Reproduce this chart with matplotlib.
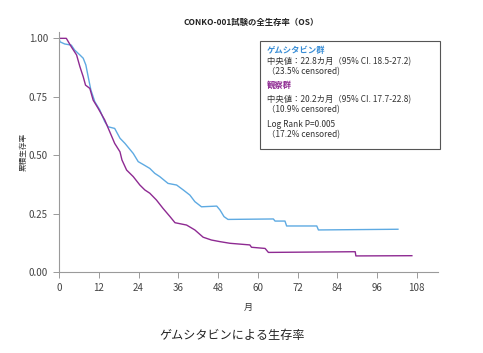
import matplotlib
matplotlib.use("Agg")
import matplotlib.pyplot as plt

plt.rcParams['font.family'] = ['Noto Sans CJK JP', 'DejaVu Sans']

# survival curves (months, cumulative survival)
gem_t = [0, 0.3, 1.7, 3.7, 4.7, 6.3, 7.3, 8.1, 8.8, 9.6, 10.8, 12.3, 13.8, 14.8, 16.8,
         18.4, 19.9, 22.4, 23.9, 25.5, 27.4, 28.9, 30.4, 32.9, 35.5, 37.5, 39.5, 41,
         43, 47.6, 48.6, 49.8, 51, 64.7, 65.2, 68.2, 68.7, 77.8, 78.3, 102.3]
gem_s = [1.0, 0.985, 0.976, 0.971, 0.95, 0.929, 0.915, 0.886, 0.836, 0.78, 0.729, 0.694,
         0.644, 0.622, 0.615, 0.573, 0.551, 0.508, 0.473, 0.46, 0.444, 0.423, 0.409,
         0.38, 0.373, 0.352, 0.33, 0.302, 0.28, 0.283, 0.266, 0.238, 0.226, 0.228,
         0.219, 0.219, 0.198, 0.198, 0.181, 0.184]

obs_t = [0, 2.2, 3.7, 5.3, 6.3, 7.3, 8.0, 9.3, 10.3, 11.8, 13.8, 15.3, 16.8, 18.4, 19.0,
         20.4, 22.4, 24.4, 25.9, 27.4, 29.4, 31.4, 33.5, 35, 38.5, 41, 43.5, 46, 48.6,
         51.6, 57.6, 58.1, 62.2, 63.2, 89.4, 89.6, 106.5]
obs_s = [1.0, 1.0, 0.964, 0.929, 0.879, 0.836, 0.8, 0.786, 0.736, 0.701, 0.651, 0.601,
         0.551, 0.515, 0.48, 0.437, 0.409, 0.373, 0.352, 0.338, 0.309, 0.273, 0.238,
         0.212, 0.202, 0.181, 0.15, 0.138, 0.131, 0.124, 0.117, 0.107, 0.102, 0.085,
         0.088, 0.07, 0.071]

xticks = [0, 12, 24, 36, 48, 60, 72, 84, 96, 108]
yticks = [0.0, 0.25, 0.5, 0.75, 1.0]

blue = '#5eaae2'
purple = '#8e2a92'
grey = '#9a9a9a'

fig = plt.figure(figsize=(4.83, 3.53), dpi=100)
ax = fig.add_axes([0.1222, 0.2286, 0.7847, 0.6807])

ax.plot(gem_t, gem_s, color=blue, lw=1.0)
ax.plot(obs_t, obs_s, color=purple, lw=1.0)

ax.set_xlim(0, 114.4)
ax.set_ylim(0, 1.027)
ax.set_xticks(xticks)
ax.set_yticks(yticks)
ax.set_yticklabels(['%.2f' % v for v in yticks])
for s in ['top', 'right']:
    ax.spines[s].set_visible(False)
for s in ['left', 'bottom']:
    ax.spines[s].set_color(grey)
    ax.spines[s].set_linewidth(0.8)
ax.tick_params(direction='out', length=4, width=0.7, color=grey,
               labelsize=7, labelcolor='#444444', pad=4)

ax.set_xlabel('月', fontsize=6.5, color='#333333', labelpad=7)
ax.set_ylabel('累積生存率', fontsize=5.5, color='#333333', labelpad=1)
fig.text(0.52, 0.937, 'CONKO-001試験の全生存率（OS）', ha='center', va='center',
         fontsize=6, fontweight='bold', color='#222222')
fig.text(0.48, 0.05, 'ゲムシタビンによる生存率', ha='center', va='center',
         fontsize=8.7, color='#222222')

# annotation box
box = plt.Rectangle((260 / 483, 1 - 149 / 353), 180 / 483, 108 / 353,
                    transform=fig.transFigure, fill=False, edgecolor='#555555', lw=0.8)
fig.patches.append(box)
lines = [
    ('ゲムシタビン群', 50, '#3a8ed6', 'bold'),
    ('中央値：22.8カ月（95% CI. 18.5-27.2)', 61.7, '#333333', 'normal'),
    ('（23.5% censored)', 71.7, '#333333', 'normal'),
    ('観察群', 85, purple, 'bold'),
    ('中央値：20.2カ月（95% CI. 17.7-22.8)', 99.3, '#333333', 'normal'),
    ('（10.9% censored)', 110, '#333333', 'normal'),
    ('Log Rank P=0.005', 125, '#333333', 'normal'),
    ('（17.2% censored)', 134.3, '#333333', 'normal'),
]
for txt, ypx, c, w in lines:
    fig.text(267 / 483, 1 - ypx / 353, txt, ha='left', va='center',
             fontsize=6, color=c, fontweight=w)

fig.savefig('out.png', dpi=100)
